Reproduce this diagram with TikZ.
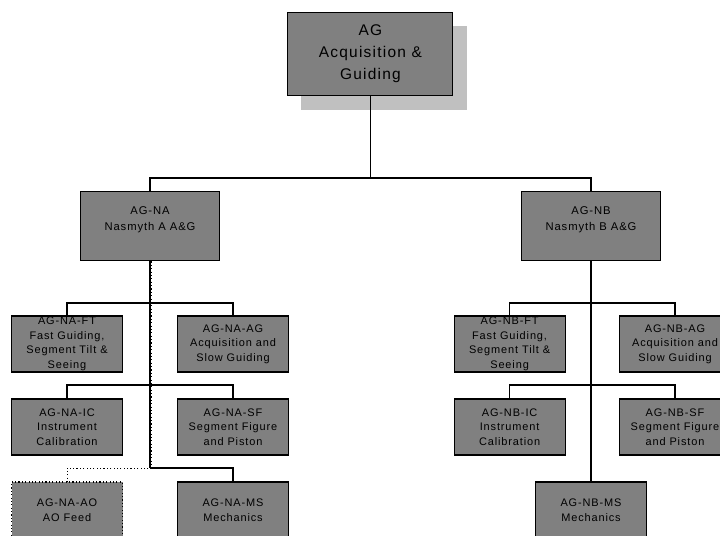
\documentclass[tikz,border=0pt]{standalone}
\usepackage{fontspec}
\newfontfamily\boxfont{Liberation Sans}[LetterSpace=8]
\usetikzlibrary{positioning,backgrounds}
\definecolor{boxgray}{HTML}{808080}
\definecolor{shadowgray}{HTML}{C0C0C0}

\begin{document}
\begin{tikzpicture}[
        topbox/.style={rectangle, draw, line width=0.8pt, fill=boxgray, align=center, inner sep=0pt, minimum width=4.125cm, minimum height=2.075cm, font={\boxfont\fontsize{11}{15.6}\selectfont}},
        groupbox/.style={rectangle, draw, line width=0.8pt, fill=boxgray, align=center, inner sep=0pt, minimum width=3.475cm, minimum height=1.725cm, font={\boxfont\fontsize{8}{11}\selectfont}},
        taskbox/.style={rectangle, draw, line width=0.8pt, fill=boxgray, align=center, inner sep=0pt, minimum width=2.775cm, minimum height=1.4cm, font={\boxfont\fontsize{7.8}{10.4}\selectfont}},
        optbox/.style={taskbox, dash pattern=on 0.8pt off 1.6pt},
        link/.style={line width=0.75pt},
        trunk/.style={line width=0.9pt},
        optlink/.style={line width=0.7pt, dash pattern=on 0.8pt off 1.6pt}
    ]
        \useasboundingbox (0,0) rectangle (18,13.4);
        \clip (0,0) rectangle (18,13.4);

        % top level
        \node[topbox] (ag) at (9.26,12.06) {AG\\Acquisition \&\\Guiding};
        \begin{scope}[on background layer]
            \fill[shadowgray] ([shift={(0.35,-0.35)}]ag.south west) rectangle ([shift={(0.35,-0.35)}]ag.north east);
        \end{scope}

        % Nasmyth groups
        \node[groupbox] (na) at (3.75,7.74) {AG-NA\\Nasmyth A A\&G\\ };
        \node[groupbox] (nb) at (14.775,7.74) {AG-NB\\Nasmyth B A\&G\\ };

        % Nasmyth A tasks
        \node[taskbox] (naft) at (1.675,4.8) {AG-NA-FT\\Fast Guiding,\\Segment Tilt \&\\Seeing};
        \node[taskbox] (naag) at (5.825,4.8) {AG-NA-AG\\Acquisition and\\Slow Guiding};
        \node[taskbox] (naic) at (1.675,2.725) {AG-NA-IC\\Instrument\\Calibration};
        \node[taskbox] (nasf) at (5.825,2.725) {AG-NA-SF\\Segment Figure\\and Piston};
        \node[optbox] (naao) at (1.675,0.65) {AG-NA-AO\\AO Feed};
        \node[taskbox] (nams) at (5.825,0.65) {AG-NA-MS\\Mechanics};

        % Nasmyth B tasks
        \node[taskbox] (nbft) at (12.74,4.8) {AG-NB-FT\\Fast Guiding,\\Segment Tilt \&\\Seeing};
        \node[taskbox] (nbag) at (16.875,4.8) {AG-NB-AG\\Acquisition and\\Slow Guiding};
        \node[taskbox] (nbic) at (12.74,2.725) {AG-NB-IC\\Instrument\\Calibration};
        \node[taskbox] (nbsf) at (16.875,2.725) {AG-NB-SF\\Segment Figure\\and Piston};
        \node[taskbox] (nbms) at (14.775,0.65) {AG-NB-MS\\Mechanics};

        % bus points
        \coordinate (agbus) at (9.26,8.95);
        \coordinate (nabus1) at (3.75,5.825);
        \coordinate (nabus2) at (3.75,3.775);
        \coordinate (nabus3) at (3.75,1.7);
        \coordinate (nbbus1) at (14.775,5.825);
        \coordinate (nbbus2) at (14.775,3.775);

        % connectors
        \draw[trunk] (ag) -- (agbus);
        \draw[link] (agbus) -| (na.north);
        \draw[link] (agbus) -| (nb.north);

        \draw[trunk] (na) -- (nabus3);
        \draw[optlink] ([xshift=0.8pt]na.south) -- ([xshift=0.8pt]nabus3) -| (naao.north);
        \draw[link] (naft.north) |- (nabus1) -| (naag.north);
        \draw[link] (naic.north) |- (nabus2) -| (nasf.north);
        \draw[link] (nabus3) -| (nams.north);

        \draw[trunk] (nb) -- (nbms);
        \draw[link] (nbft.north) |- (nbbus1) -| (nbag.north);
        \draw[link] (nbic.north) |- (nbbus2) -| (nbsf.north);
    \end{tikzpicture}
\end{document}
